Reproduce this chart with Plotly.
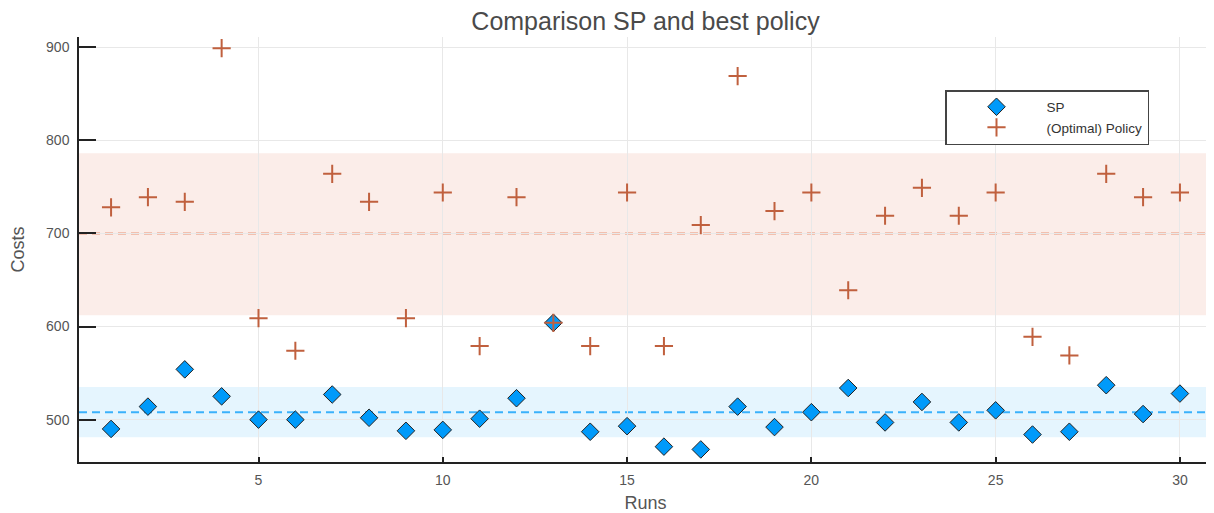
import plotly.graph_objects as go

runs = list(range(1, 31))
sp_costs = [490, 514, 554, 525, 500, 500, 527, 502, 488, 489,
            501, 523, 604, 487, 493, 471, 468, 514, 492, 508,
            534, 497, 519, 497, 510, 484, 487, 537, 506, 528]
policy_costs = [728, 739, 734, 899, 609, 574, 764, 734, 609, 744,
                579, 739, 604, 579, 744, 579, 709, 869, 724, 744,
                639, 719, 749, 719, 744, 589, 569, 764, 739, 744]

sp_mean = 508
sp_band = [481, 535]
policy_mean = 700
policy_band = [612, 786]

x_ticks = [5, 10, 15, 20, 25, 30]
y_ticks = [500, 600, 700, 800, 900]

BLUE = "#009AFA"
ORANGE = "#E26F46"
FONT = "Liberation Sans, Arial, sans-serif"

# page body has an 8px margin: size the figure so the plot area lands where the reference has it
W, H = 1206, 505
ML, MR, MT, MB = 71, 2, 29, 51
PW, PH = W - ML - MR, H - MT - MB

fig = go.Figure()

fig.add_trace(go.Scatter(
    x=runs, y=sp_costs, mode="markers", name="SP",
    marker=dict(symbol="diamond", size=13.5, color=BLUE,
                line=dict(color="#222222", width=1)),
))
fig.add_trace(go.Scatter(
    x=runs, y=policy_costs, mode="markers", name="(Optimal) Policy",
    marker=dict(symbol="cross-thin", size=13, color=ORANGE,
                line=dict(color="#c0603e", width=2)),
))

shapes = [
    dict(type="rect", xref="x domain", yref="y", x0=0, x1=1,
         y0=policy_band[0], y1=policy_band[1],
         fillcolor="rgba(226,111,70,0.12)", line=dict(width=0), layer="below"),
    dict(type="rect", xref="x domain", yref="y", x0=0, x1=1,
         y0=sp_band[0], y1=sp_band[1],
         fillcolor="rgba(0,154,250,0.10)", line=dict(width=0), layer="below"),
    dict(type="line", xref="x domain", yref="y", x0=0, x1=1,
         y0=policy_mean, y1=policy_mean,
         line=dict(color="rgba(226,111,70,0.7)", width=2, dash="8px,5px"), layer="below"),
    dict(type="line", xref="x domain", yref="y", x0=0, x1=1,
         y0=sp_mean, y1=sp_mean,
         line=dict(color="rgba(0,154,250,0.75)", width=2, dash="8px,5px"), layer="below"),
]

fig.update_layout(
    width=W, height=H,
    margin=dict(l=ML, r=MR, t=MT, b=MB, autoexpand=False),
    paper_bgcolor="white", plot_bgcolor="white",
    font=dict(family=FONT, color="#444444"),
    title=dict(text="Comparison SP and best policy", x=0.5, xref="paper", xanchor="center",
               y=0.974, yanchor="middle",
               font=dict(size=25, color="#4a4a4a", family=FONT)),
    shapes=shapes,
    showlegend=True,
    legend=dict(x=(945 - 79) / PW, y=(462 - 90) / PH, xanchor="left", yanchor="top",
                bgcolor="white", bordercolor="#444444", borderwidth=1.5,
                font=dict(size=13.5, color="#333333", family=FONT),
                itemwidth=90, entrywidth=140, tracegroupgap=0),
)

fig.update_xaxes(
    range=[0.13, 30.87], tickvals=x_ticks, ticktext=[str(v) for v in x_ticks],
    showgrid=True, gridcolor="#e8e8e8", gridwidth=1, zeroline=False,
    showline=True, linecolor="#222222", linewidth=1.5,
    ticks="inside", ticklen=5, tickcolor="#222222", tickwidth=1.5,
    tickfont=dict(size=14, color="#555555", family=FONT), ticklabelstandoff=4,
    title=dict(text="Runs", font=dict(size=18, color="#555555", family=FONT), standoff=10),
    automargin=False, mirror=False,
)
fig.update_yaxes(
    range=[454.5, 911], tickvals=y_ticks, ticktext=[str(v) for v in y_ticks],
    showgrid=True, gridcolor="#e8e8e8", gridwidth=1, zeroline=False,
    showline=True, linecolor="#222222", linewidth=1.5,
    ticks="inside", ticklen=17, tickcolor="#222222", tickwidth=1.5,
    tickfont=dict(size=14, color="#555555", family=FONT), ticklabelstandoff=5,
    title=dict(text="Costs", font=dict(size=18, color="#555555", family=FONT), standoff=17),
    automargin=False, mirror=False,
)

fig.write_html("out.html")
